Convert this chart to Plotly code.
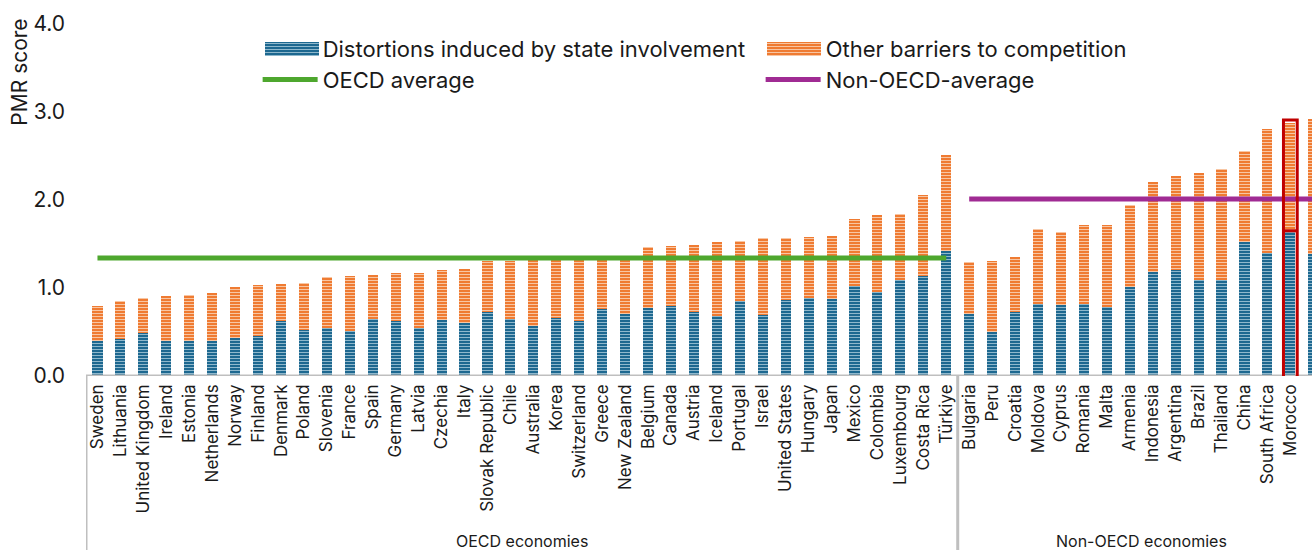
import plotly.graph_objects as go

oecd_countries = ["Sweden", "Lithuania", "United Kingdom", "Ireland", "Estonia", "Netherlands", "Norway",
                  "Finland", "Denmark", "Poland", "Slovenia", "France", "Spain", "Germany", "Latvia",
                  "Czechia", "Italy", "Slovak Republic", "Chile", "Australia", "Korea", "Switzerland",
                  "Greece", "New Zealand", "Belgium", "Canada", "Austria", "Iceland", "Portugal", "Israel",
                  "United States", "Hungary", "Japan", "Mexico", "Colombia", "Luxembourg", "Costa Rica",
                  "Türkiye"]
non_oecd_countries = ["Bulgaria", "Peru", "Croatia", "Moldova", "Cyprus", "Romania", "Malta", "Armenia",
                      "Indonesia", "Argentina", "Brazil", "Thailand", "China", "South Africa", "Morocco", "Kenya"]

oecd_state = [0.40, 0.42, 0.49, 0.40, 0.40, 0.40, 0.43, 0.45, 0.63, 0.52, 0.54, 0.51, 0.65, 0.63, 0.54,
              0.64, 0.60, 0.73, 0.65, 0.57, 0.66, 0.63, 0.76, 0.71, 0.77, 0.79, 0.73, 0.68, 0.85, 0.69,
              0.86, 0.89, 0.87, 1.02, 0.96, 1.09, 1.14, 1.42]
oecd_other = [0.40, 0.43, 0.40, 0.51, 0.52, 0.54, 0.58, 0.58, 0.41, 0.54, 0.58, 0.63, 0.50, 0.54, 0.63,
              0.56, 0.62, 0.58, 0.66, 0.75, 0.66, 0.69, 0.57, 0.62, 0.70, 0.69, 0.76, 0.84, 0.68, 0.88,
              0.71, 0.69, 0.72, 0.76, 0.87, 0.75, 0.92, 1.09]
non_oecd_state = [0.70, 0.50, 0.73, 0.82, 0.81, 0.82, 0.78, 1.01, 1.18, 1.20, 1.09, 1.09, 1.52, 1.40, 1.65, 1.39]
non_oecd_other = [0.60, 0.81, 0.62, 0.85, 0.83, 0.90, 0.94, 0.93, 1.02, 1.07, 1.22, 1.26, 1.04, 1.41, 1.23, 1.53]

oecd_average = 1.34
non_oecd_average = 2.01
highlight_country = "Morocco"
group_labels = ["OECD economies", "Non-OECD economies"]
series_names = ["Distortions induced by state involvement", "Other barriers to competition"]
y_ticks = [0.0, 1.0, 2.0, 3.0, 4.0]

countries = oecd_countries + non_oecd_countries
state = oecd_state + non_oecd_state
other = oecd_other + non_oecd_other

FONT = "Inter"
TXT = "#1a1a1a"
BLUE = "#1d6890"
BLUE_STRIPE = "#8fb8cc"
ORANGE = "#ef7b32"
ORANGE_STRIPE = "#f8c6a3"
GREEN = "#4ea72e"
PURPLE = "#a02b93"
GRAY = "#bfbfbf"

# plot geometry (pixels)
W, H = 1312, 550
ML, MT, MB = 86, 24, 174
PW = W - ML
PH = H - MT - MB


def px_x(p):
    return (p - ML) / PW


def px_y(p):
    return (H - MB - p) / PH


fig = go.Figure()
fig.add_trace(go.Bar(
    x=countries, y=state, name=series_names[0], showlegend=False,
    marker=dict(color=BLUE, line=dict(width=0),
                pattern=dict(shape="-", fillmode="replace", bgcolor=BLUE, fgcolor=BLUE_STRIPE,
                             size=3, solidity=0.35)),
))
fig.add_trace(go.Bar(
    x=countries, y=other, name=series_names[1], showlegend=False,
    marker=dict(color=ORANGE, line=dict(width=0),
                pattern=dict(shape="-", fillmode="replace", bgcolor=ORANGE, fgcolor=ORANGE_STRIPE,
                             size=3, solidity=0.35)),
))
fig.add_trace(go.Scatter(
    x=oecd_countries, y=[oecd_average] * len(oecd_countries), mode="lines", name="OECD average",
    line=dict(color=GREEN, width=5), legendrank=3,
))
fig.add_trace(go.Scatter(
    x=non_oecd_countries, y=[non_oecd_average] * len(non_oecd_countries), mode="lines",
    name="Non-OECD-average", line=dict(color=PURPLE, width=5), legendrank=4,
))
# legend entries for the bar series (swatches drawn as shapes below)
for i, nm in enumerate(series_names):
    fig.add_trace(go.Scatter(x=[None], y=[None], mode="lines", name=nm,
                             line=dict(color="rgba(0,0,0,0)", width=1), legendrank=i + 1,
                             hoverinfo="skip"))

n_oecd = len(oecd_countries)
n_all = len(countries)
shapes = []
for xpos in [-0.5, n_oecd - 0.5, n_all - 0.5]:
    shapes.append(dict(type="line", xref="x", yref="paper", x0=xpos, x1=xpos, y0=0, y1=-0.52,
                       line=dict(color=GRAY, width=3)))
shapes.append(dict(type="line", xref="x", yref="y", x0=-0.5, x1=n_all - 0.5, y0=0, y1=0,
                   line=dict(color=GRAY, width=3)))
hi = countries.index(highlight_country)
hs = state[hi]
ht = state[hi] + other[hi]
shapes.append(dict(type="rect", xref="x", yref="y", x0=hi - 0.3, x1=hi + 0.3, y0=-0.03, y1=ht + 0.03,
                   line=dict(color="#c00000", width=3)))
shapes.append(dict(type="line", xref="x", yref="y", x0=hi - 0.3, x1=hi + 0.3, y0=hs, y1=hs,
                   line=dict(color="#c00000", width=3)))

# striped legend swatches
for sx, col, stripe in [(265, BLUE, BLUE_STRIPE), (767, ORANGE, ORANGE_STRIPE)]:
    top, bot = 42, 56
    shapes.append(dict(type="rect", xref="paper", yref="paper", x0=px_x(sx), x1=px_x(sx + 54),
                       y0=px_y(bot), y1=px_y(top), fillcolor=col, line=dict(width=0), layer="above"))
    yy = top + 1.5
    while yy < bot:
        shapes.append(dict(type="line", xref="paper", yref="paper", x0=px_x(sx), x1=px_x(sx + 54),
                           y0=px_y(yy), y1=px_y(yy), line=dict(color=stripe, width=1), layer="above"))
        yy += 3

annotations = [
    dict(text=group_labels[0], xref="x", yref="paper", x=(n_oecd - 1) / 2, y=-0.469, yanchor="middle",
         showarrow=False, font=dict(family=FONT, size=16, color=TXT)),
    dict(text=group_labels[1], xref="x", yref="paper", x=n_oecd + (n_all - n_oecd - 1) / 2, y=-0.469,
         yanchor="middle", showarrow=False, font=dict(family=FONT, size=16, color=TXT)),
    dict(text="PMR score", xref="paper", yref="paper", x=-0.054, y=0.864, textangle=-90,
         xanchor="center", yanchor="middle",
         showarrow=False, font=dict(family=FONT, size=21, color=TXT)),
]

fig.update_layout(
    width=W, height=H,
    margin=dict(l=ML, r=0, t=MT, b=MB),
    paper_bgcolor="white", plot_bgcolor="white",
    barmode="stack", bargap=0.56,
    font=dict(family=FONT, color=TXT),
    showlegend=True,
    legend=dict(orientation="h", x=0.140, y=0.991, xanchor="left", yanchor="top", traceorder="normal",
                font=dict(family=FONT, size=22, color=TXT), entrywidth=433, entrywidthmode="pixels",
                itemwidth=55, bgcolor="rgba(0,0,0,0)"),
    xaxis=dict(type="category", range=[-0.5, -0.5 + PW / 22.94], tickangle=-90,
               tickfont=dict(family=FONT, size=17, color=TXT), showgrid=False, showline=False,
               ticks="", ticklabelstandoff=4, fixedrange=True),
    yaxis=dict(range=[0, 4], tickvals=y_ticks, tickformat=".1f", showgrid=False, showline=False,
               zeroline=False, ticks="", tickfont=dict(family=FONT, size=21, color=TXT),
               ticklabelstandoff=20),
    shapes=shapes,
    annotations=annotations,
)

fig.write_html("out.html")
